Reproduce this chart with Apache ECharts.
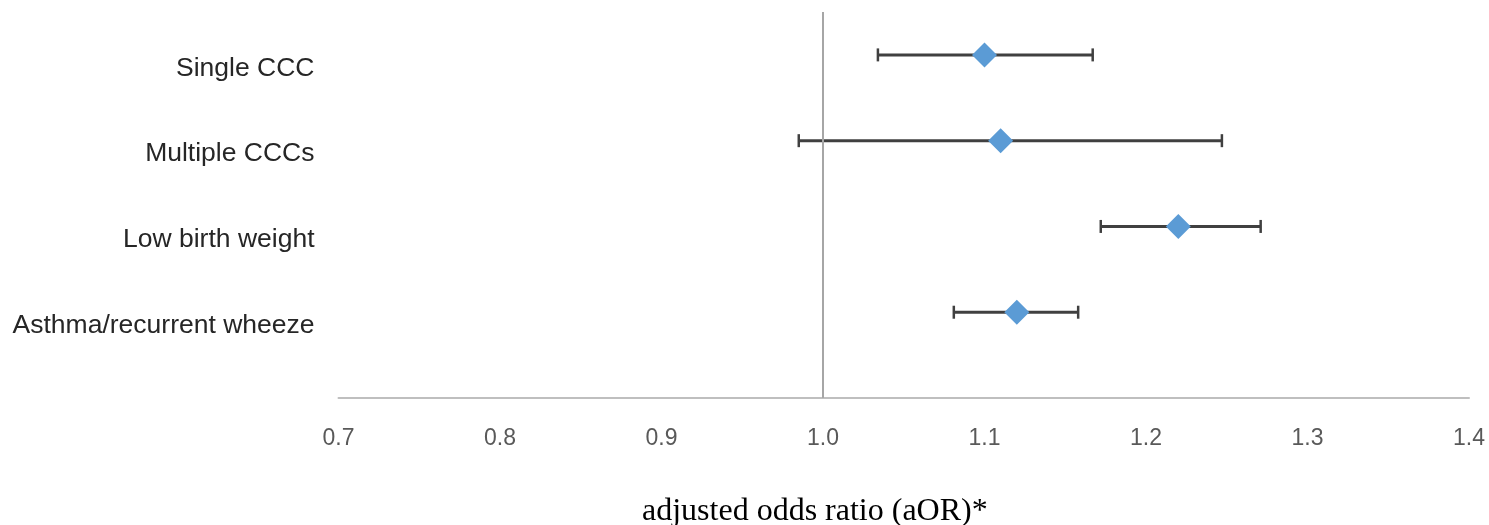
<!DOCTYPE html>
<html>
<head>
<meta charset="utf-8">
<script src="https://cdn.jsdelivr.net/npm/echarts@6/dist/echarts.min.js"></script>
<style>
html,body{margin:0;padding:0;background:#fff;}
#chart{width:1489px;height:525px;}
</style>
</head>
<body>
<div id="chart"></div>
<script>
// Data
var categories = ['Single CCC', 'Multiple CCCs', 'Low birth weight', 'Asthma/recurrent wheeze'];
var rowPos = [4, 3, 2, 1];
var aor = [1.10, 1.11, 1.22, 1.12];
var lowerCI = [1.034, 0.985, 1.172, 1.081];
var upperCI = [1.167, 1.247, 1.271, 1.158];
var xTicks = ['0.7', '0.8', '0.9', '1.0', '1.1', '1.2', '1.3', '1.4'];
var xTitle = 'adjusted odds ratio (aOR)*';
var refValue = 1.0;

var chart = echarts.init(document.getElementById('chart'));

var pointData = aor.map(function (v, i) { return [v, rowPos[i]]; });
var barData = aor.map(function (v, i) { return [lowerCI[i], upperCI[i], rowPos[i]]; });

var option = {
  animation: false,
  backgroundColor: '#ffffff',
  title: {
    text: xTitle,
    left: 637,
    top: 491,
    textStyle: { fontFamily: 'Liberation Serif', fontSize: 32, fontWeight: 'normal', color: '#000000' }
  },
  grid: { left: 338.5, right: 20, top: 12, bottom: 127, containLabel: false },
  xAxis: {
    type: 'value',
    min: 0.7,
    max: 1.4,
    interval: 0.1,
    axisLine: { show: true, lineStyle: { color: '#bfbfbf', width: 2 } },
    axisTick: { show: false },
    splitLine: { show: false },
    axisLabel: {
      margin: 29,
      fontFamily: 'Liberation Sans',
      fontSize: 23,
      color: '#595959',
      formatter: function (v) {
        var idx = Math.round((v - 0.7) * 10);
        return xTicks[idx] !== undefined ? xTicks[idx] : '';
      }
    }
  },
  yAxis: {
    type: 'value',
    min: 0,
    max: 4.5,
    interval: 1,
    axisLine: { show: false },
    axisTick: { show: false },
    splitLine: { show: false },
    axisLabel: {
      margin: 24,
      fontFamily: 'Liberation Sans',
      fontSize: 26.5,
      color: '#262626',
      verticalAlign: 'top',
      formatter: function (v) {
        var i = rowPos.indexOf(v);
        return i >= 0 ? categories[i] : '';
      }
    }
  },
  series: [
    {
      type: 'custom',
      data: barData,
      z: 2,
      renderItem: function (params, api) {
        var y = api.value(2);
        var p1 = api.coord([api.value(0), y]);
        var p2 = api.coord([api.value(1), y]);
        var cap = 6.5;
        var style = { stroke: '#404040', lineWidth: 3 };
        var capStyle = { stroke: '#404040', lineWidth: 2.5 };
        return {
          type: 'group',
          children: [
            { type: 'line', shape: { x1: p1[0], y1: p1[1], x2: p2[0], y2: p2[1] }, style: style },
            { type: 'line', shape: { x1: p1[0], y1: p1[1] - cap, x2: p1[0], y2: p1[1] + cap }, style: capStyle },
            { type: 'line', shape: { x1: p2[0], y1: p2[1] - cap, x2: p2[0], y2: p2[1] + cap }, style: capStyle }
          ]
        };
      },
      markLine: {
        silent: true,
        symbol: 'none',
        label: { show: false },
        lineStyle: { color: '#a6a6a6', width: 2, type: 'solid' },
        data: [{ xAxis: refValue }]
      }
    },
    {
      type: 'scatter',
      data: pointData,
      symbol: 'diamond',
      symbolSize: [25, 25],
      z: 3,
      itemStyle: { color: '#5b9bd5', opacity: 1 }
    }
  ]
};

chart.setOption(option);
</script>
</body>
</html>
